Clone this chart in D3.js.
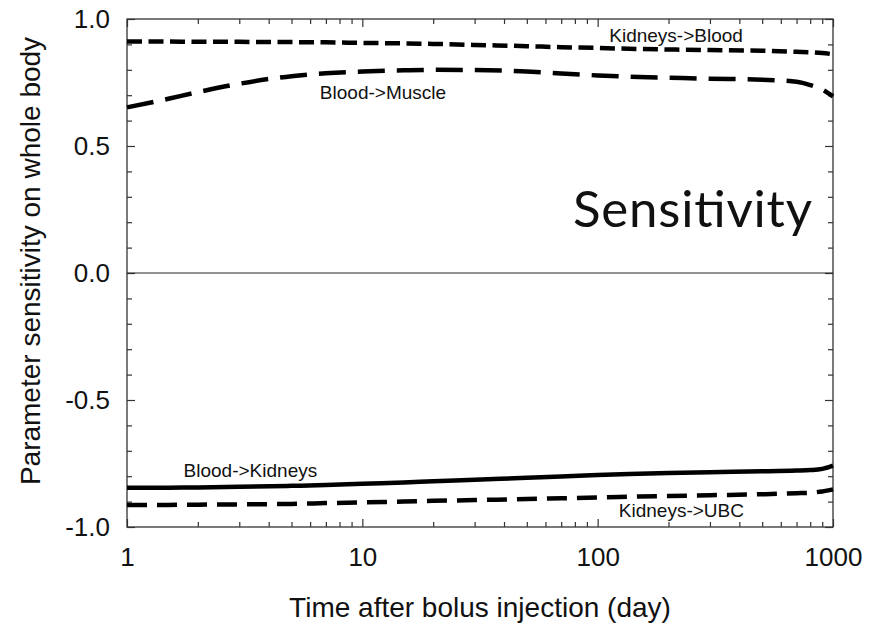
<!DOCTYPE html>
<html>
<head>
<meta charset="utf-8">
<script src="https://cdn.jsdelivr.net/npm/d3@7"></script>
<style>
  body { margin: 0; background: #fff; }
  svg text { font-family: "Liberation Sans", Arial, sans-serif; fill: #111; }
</style>
</head>
<body>
<svg id="chart"></svg>
<script>
// time points (day) shared by all curves
const times = [1, 1.5, 2, 3, 5, 7, 10, 15, 20, 30, 50, 70, 100, 150, 200, 300, 500, 700, 800, 900, 1000];

// sensitivity values
const kidneysBlood = [0.911, 0.911, 0.910, 0.910, 0.909, 0.908, 0.906, 0.904, 0.902, 0.898, 0.893, 0.889, 0.886, 0.882, 0.880, 0.878, 0.875, 0.871, 0.869, 0.866, 0.861];
const bloodMuscle = [0.652, 0.686, 0.712, 0.745, 0.775, 0.786, 0.793, 0.798, 0.800, 0.799, 0.793, 0.785, 0.778, 0.772, 0.769, 0.765, 0.761, 0.753, 0.740, 0.722, 0.695];
const bloodKidneys = [-0.845, -0.845, -0.844, -0.842, -0.838, -0.835, -0.830, -0.825, -0.820, -0.814, -0.806, -0.801, -0.795, -0.790, -0.787, -0.784, -0.781, -0.778, -0.776, -0.771, -0.758];
const kidneysUBC = [-0.913, -0.913, -0.912, -0.911, -0.909, -0.906, -0.903, -0.900, -0.897, -0.894, -0.890, -0.887, -0.884, -0.880, -0.878, -0.875, -0.871, -0.867, -0.865, -0.860, -0.852];

// tick values
const xMajor = [1, 10, 100, 1000];
const xMinor = [2, 3, 4, 5, 6, 7, 8, 9, 20, 30, 40, 50, 60, 70, 80, 90, 200, 300, 400, 500, 600, 700, 800, 900];
const yMajor = [-1.0, -0.5, 0.0, 0.5, 1.0];
const yMinor = [-0.9, -0.8, -0.7, -0.6, -0.4, -0.3, -0.2, -0.1, 0.1, 0.2, 0.3, 0.4, 0.6, 0.7, 0.8, 0.9];

// curve labels: name, anchor time, anchor value
const labels = [
    { text: "Kidneys->Blood", t: 112, v: 0.911 },
    { text: "Blood->Muscle", t: 6.6, v: 0.684 },
    { text: "Blood->Kidneys", t: 1.74, v: -0.802 },
    { text: "Kidneys->UBC", t: 123, v: -0.962 }
];

const series = [
    { name: "Kidneys->Blood", values: kidneysBlood, dash: "15,6.5" },
    { name: "Blood->Muscle", values: bloodMuscle, dash: "27,12" },
    { name: "Blood->Kidneys", values: bloodKidneys, dash: null },
    { name: "Kidneys->UBC", values: kidneysUBC, dash: "20,10" }
];

const W = 869, H = 626;
const margin = { top: 19, right: 36, bottom: 99, left: 127 };
const width = W - margin.left - margin.right,
    height = H - margin.top - margin.bottom;

const svg = d3.select("#chart").attr("width", W).attr("height", H);
const g = svg.append("g").attr("transform", `translate(${margin.left},${margin.top})`);

const x = d3.scaleLog().domain([1, 1000]).range([0, width]);
const y = d3.scaleLinear().domain([-1, 1]).range([height, 0]);

// plain hyphen instead of the unicode minus d3 uses
const yFmt = d => d3.format(".1f")(d).replace("\u2212", "-");

function styleAxis(sel) {
    sel.select(".domain").remove();
    sel.selectAll("line").attr("stroke", "#333").attr("stroke-width", 1.2);
    sel.selectAll("text").style("font-size", "26px").attr("fill", "#111");
}

// left axis
g.append("g")
    .call(d3.axisLeft(y).tickValues(yMajor).tickSize(-8).tickPadding(17).tickFormat(yFmt))
    .call(styleAxis);
g.append("g")
    .call(d3.axisLeft(y).tickValues(yMinor).tickSize(-5).tickFormat(""))
    .call(styleAxis);
// right axis
g.append("g").attr("transform", `translate(${width},0)`)
    .call(d3.axisRight(y).tickValues(yMajor).tickSize(-8).tickFormat(""))
    .call(styleAxis);
g.append("g").attr("transform", `translate(${width},0)`)
    .call(d3.axisRight(y).tickValues(yMinor).tickSize(-5).tickFormat(""))
    .call(styleAxis);
// bottom axis
g.append("g").attr("transform", `translate(0,${height})`)
    .call(d3.axisBottom(x).tickValues(xMajor).tickSize(-8).tickPadding(21).tickFormat(d3.format("d")))
    .call(styleAxis);
g.append("g").attr("transform", `translate(0,${height})`)
    .call(d3.axisBottom(x).tickValues(xMinor).tickSize(-5).tickFormat(""))
    .call(styleAxis);
// top axis
g.append("g")
    .call(d3.axisTop(x).tickValues(xMajor).tickSize(-8).tickFormat(""))
    .call(styleAxis);
g.append("g")
    .call(d3.axisTop(x).tickValues(xMinor).tickSize(-5).tickFormat(""))
    .call(styleAxis);

// frame
g.append("rect")
    .attr("width", width)
    .attr("height", height)
    .attr("fill", "none")
    .attr("stroke", "#333")
    .attr("stroke-width", 1.3);

// zero line
g.append("line")
    .attr("x1", 0).attr("x2", width)
    .attr("y1", y(0)).attr("y2", y(0))
    .attr("stroke", "#222")
    .attr("stroke-width", 1);

// curves
const line = d3.line()
    .x((d, i) => x(times[i]))
    .y(d => y(d))
    .curve(d3.curveMonotoneX);

g.append("g").selectAll("path")
    .data(series)
    .enter()
    .append("path")
    .attr("d", d => line(d.values))
    .attr("fill", "none")
    .attr("stroke", "#000")
    .attr("stroke-width", 4.5)
    .attr("stroke-dasharray", d => d.dash);

// curve labels
g.append("g").selectAll("text")
    .data(labels)
    .enter()
    .append("text")
    .attr("x", d => x(d.t))
    .attr("y", d => y(d.v))
    .style("font-size", "19px")
    .text(d => d.text);

// big annotation
g.append("text")
    .attr("x", width - 21)
    .attr("y", 208)
    .attr("text-anchor", "end")
    .attr("textLength", 239)
    .attr("lengthAdjust", "spacing")
    .style("font-family", "Lato, 'Open Sans', sans-serif")
    .style("font-size", "51px")
    .text("Sensitivity");

// axis titles
svg.append("text")
    .attr("x", margin.left + width / 2)
    .attr("y", 617)
    .attr("text-anchor", "middle")
    .style("font-size", "28px")
    .text("Time after bolus injection (day)");

svg.append("text")
    .attr("transform", "translate(40,261) rotate(-90)")
    .attr("text-anchor", "middle")
    .style("font-size", "28px")
    .text("Parameter sensitivity on whole body");
</script>
</body>
</html>
